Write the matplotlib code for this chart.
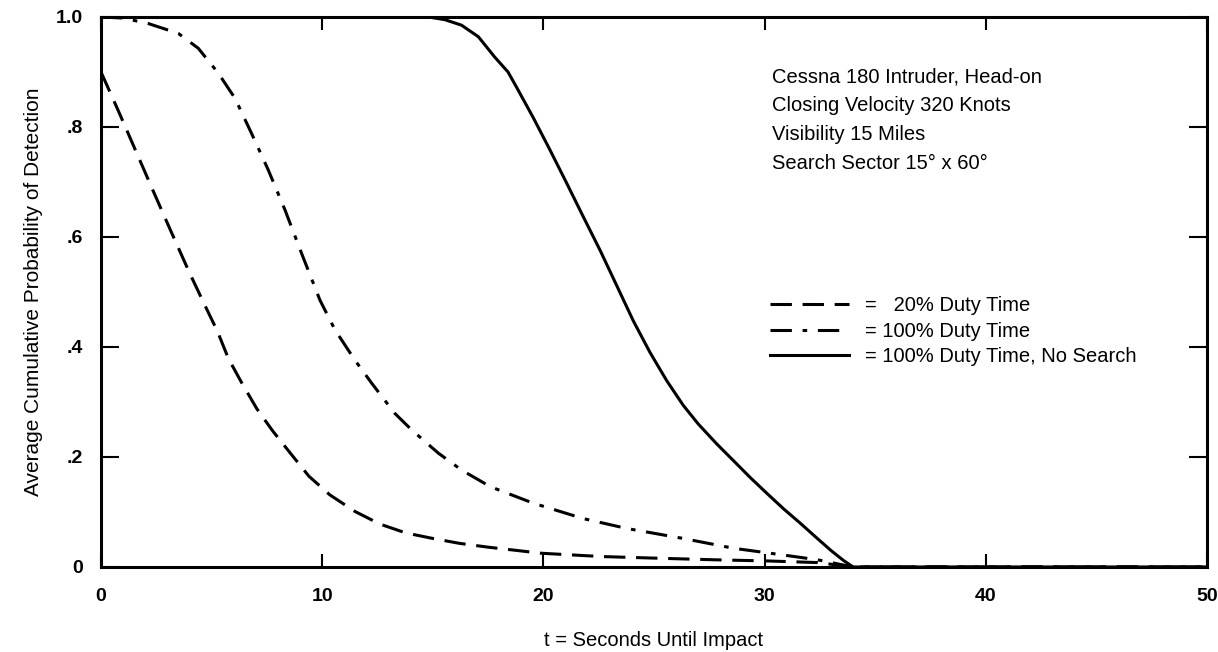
import matplotlib
matplotlib.use("Agg")
import matplotlib.pyplot as plt

# values
t_20 = [0, 0.8, 1.6, 2.4, 3.2, 4.0, 4.73, 5.27, 5.76, 6.36, 7.04, 7.75, 8.54, 9.40,
        10.35, 11.48, 12.61, 13.77, 14.98, 16.2, 17.5, 19.9, 22.6, 25.1, 27.8,
        30.1, 32.4, 34.0, 50]
p_20 = [0.90, 0.828, 0.754, 0.680, 0.607, 0.535, 0.473, 0.428, 0.379, 0.335, 0.288,
        0.248, 0.208, 0.165, 0.131, 0.101, 0.078, 0.062, 0.052, 0.043, 0.036,
        0.025, 0.019, 0.016, 0.013, 0.011, 0.008, 0.0, 0.0]

t_100 = [0, 1.0, 2.14, 3.5, 4.4, 5.3, 6.06, 6.81, 7.56, 8.32, 9.07, 9.9, 10.58,
         11.48, 12.24, 13.29, 14.05, 15.25, 16.31, 17.6, 19.54, 21.8, 23.77,
         26.3, 28.6, 30.8, 32.4, 34.0, 50]
p_100 = [1.0, 0.998, 0.988, 0.97, 0.943, 0.898, 0.852, 0.788, 0.722, 0.649, 0.57,
         0.485, 0.431, 0.376, 0.334, 0.279, 0.249, 0.207, 0.176, 0.146, 0.116,
         0.088, 0.070, 0.052, 0.034, 0.022, 0.013, 0.0, 0.0]

t_nosearch = [0, 14.8, 15.55, 16.3, 17.06, 17.8, 18.4, 18.79, 19.54, 20.3, 21.05, 21.8,
              22.56, 23.31, 24.07, 24.82, 25.57, 26.32, 27.0, 27.83, 28.6, 29.34,
              30.1, 30.85, 31.6, 32.35, 33.0, 33.56, 34.0, 50]
p_nosearch = [1.0, 1.0, 0.995, 0.985, 0.964, 0.927, 0.900, 0.872, 0.817, 0.758, 0.698,
              0.637, 0.576, 0.512, 0.447, 0.390, 0.339, 0.294, 0.260, 0.224, 0.193,
              0.163, 0.134, 0.106, 0.080, 0.053, 0.030, 0.012, 0.0, 0.0]

labels = ["=   20% Duty Time", "= 100% Duty Time", "= 100% Duty Time, No Search"]
x_ticks = [0, 10, 20, 30, 40, 50]
x_ticklabels = ["0", "10", "20", "30", "40", "50"]
y_ticks = [0, 0.2, 0.4, 0.6, 0.8, 1.0]
y_ticklabels = ["0", ".2", ".4", ".6", ".8", "1.0"]

note = ("Cessna 180 Intruder, Head-on\n"
        "Closing Velocity 320 Knots\n"
        "Visibility 15 Miles\n"
        "Search Sector 15\u00b0 x 60\u00b0")

plt.rcParams["font.family"] = ["Liberation Sans", "DejaVu Sans"]

fig = plt.figure(figsize=(12.18, 6.52), dpi=100)
ax = fig.add_axes([0.0829, 0.1304, 0.9081, 0.8436])

lw = 2.2
ax.plot(t_20, p_20, color="black", lw=lw, dashes=(7, 3.5), label=labels[0])
ax.plot(t_100, p_100, color="black", lw=lw, dashes=(7, 3.5, 1.5, 3.5), label=labels[1])
ax.plot(t_nosearch, p_nosearch, color="black", lw=lw, label=labels[2])

ax.set_xlim(0, 50)
ax.set_ylim(0, 1.0)

ax.set_xticks(x_ticks)
ax.set_xticklabels(x_ticklabels, fontweight="bold", fontsize=14)
ax.set_yticks(y_ticks)
ax.set_yticklabels(y_ticklabels, fontweight="bold", fontsize=14)
ax.tick_params(axis="x", direction="in", length=9.5, width=1.5, top=True, pad=15)
ax.tick_params(axis="y", direction="in", length=13, width=1.5, right=True, pad=13)

for s in ax.spines.values():
    s.set_linewidth(2.2)

ax.set_xlabel("t = Seconds Until Impact", fontsize=14.5, labelpad=19)
ax.set_ylabel("Average Cumulative Probability of Detection", fontsize=15, labelpad=9)

ax.text(0.607, 0.908, note, transform=ax.transAxes, fontsize=14.5,
        va="top", ha="left", linespacing=1.65)

ax.legend(loc="upper left", bbox_to_anchor=(0.598, 0.507), frameon=False,
          fontsize=14.5, handlelength=3.9, handletextpad=0.8, labelspacing=0.33,
          borderaxespad=0)

fig.savefig("out.png", dpi=100)
